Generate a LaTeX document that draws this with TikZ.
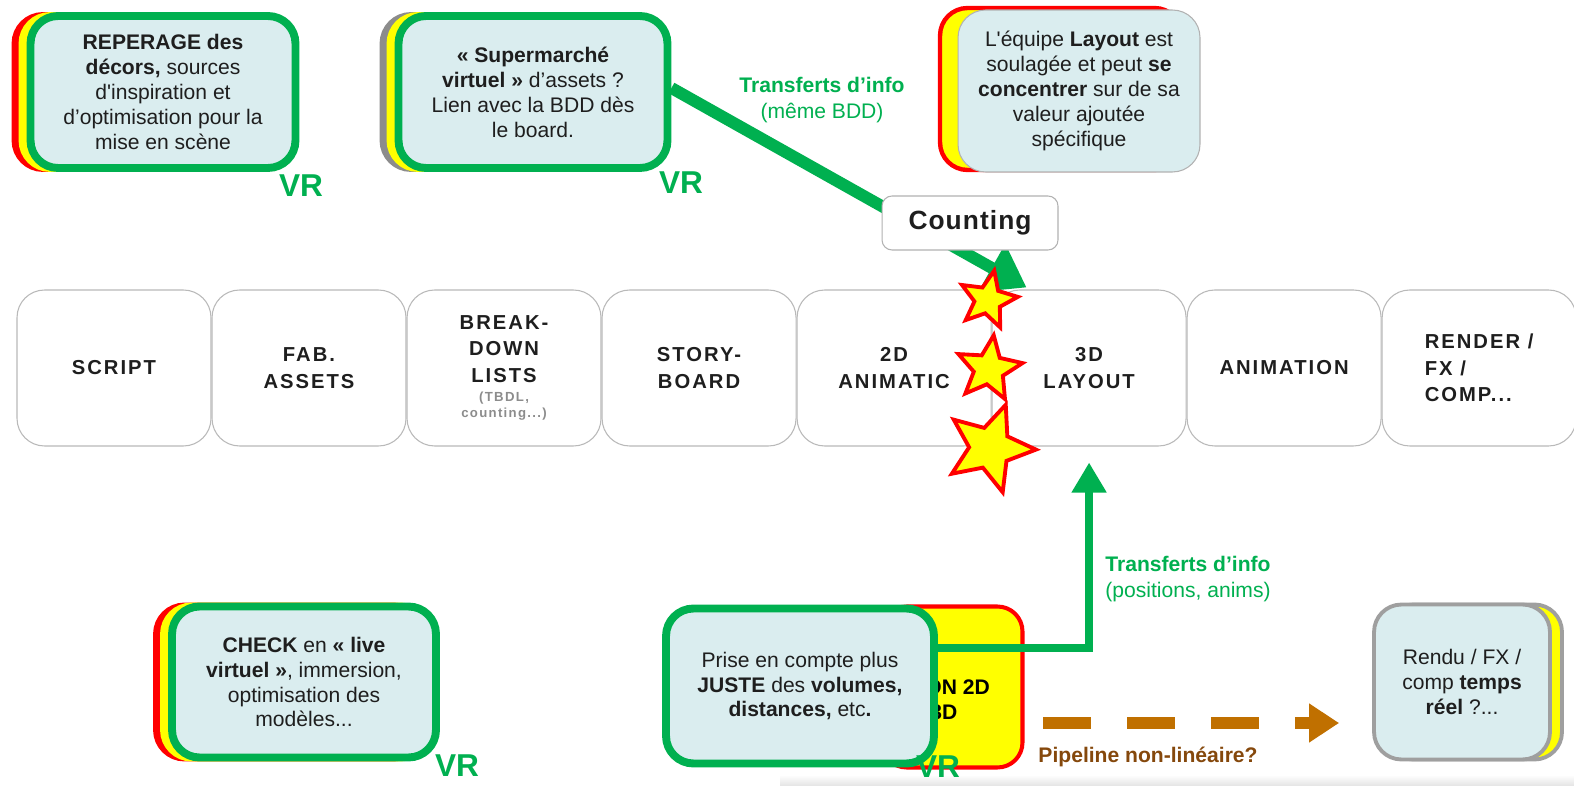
\documentclass[tikz,border=0pt]{standalone}
\usepackage{fontspec}
\setmainfont{Liberation Sans}
\newfontfamily\stagefont{Liberation Sans}[LetterSpace=10]
\newfontfamily\countfont{Liberation Sans}[LetterSpace=4]
\usepackage{tikz}
\usetikzlibrary{arrows.meta}
\usetikzlibrary{calc}
\usetikzlibrary{positioning}
\usetikzlibrary{shapes.geometric}
\usetikzlibrary{shadows}
\usetikzlibrary{backgrounds}

\definecolor{vrgreen}{HTML}{00B050}
\definecolor{linkgreen}{HTML}{92D050}
\definecolor{calloutblue}{HTML}{DAEDEF}
\definecolor{vrred}{HTML}{FF0000}
\definecolor{vryellow}{HTML}{FFFF00}
\definecolor{pipebrown}{HTML}{C07000}
\definecolor{pipetext}{HTML}{85480C}
\definecolor{stagetext}{HTML}{1E1E1E}

\newcommand{\tinygray}[1]{{\color{gray!90}\fontsize{7.5}{9}\selectfont #1}}

\begin{document}
\begin{tikzpicture}[x=0.02cm,y=-0.02cm,
    stage/.style={draw=gray!55,line width=0.6pt,fill=white,rounded corners=0.55cm,minimum width=3.88cm,minimum height=3.12cm,align=center,text=stagetext,font=\stagefont\bfseries\fontsize{11.5}{15}\selectfont},
    callout/.style={draw=vrgreen,line width=4.5pt,fill=calloutblue,rounded corners=0.55cm,align=center,text=stagetext,font=\fontsize{12}{14.2}\selectfont},
    redstack/.style={copy shadow={shadow xshift=-0.3cm,shadow yshift=0cm,opacity=1,fill=vrred,draw=vrred},copy shadow={shadow xshift=-0.16cm,shadow yshift=0cm,opacity=1,fill=vryellow,draw=vryellow}},
    graystack/.style={copy shadow={shadow xshift=-0.3cm,shadow yshift=0cm,opacity=1,fill=gray!90,draw=gray!90},copy shadow={shadow xshift=-0.16cm,shadow yshift=0cm,opacity=1,fill=vryellow,draw=vryellow}},
    link/.style={linkgreen,line width=4.5pt},
    redwire/.style={vrred,line width=1pt},
    graywire/.style={gray!80,line width=1pt},
    vrlabel/.style={text=vrgreen,font=\bfseries\fontsize{18}{18}\selectfont,inner sep=0pt},
    infolabel/.style={text=vrgreen,align=center,font=\fontsize{12}{14.5}\selectfont},
    burst/.style={star,star points=5,star point ratio=2.2,fill=vryellow,draw=vrred,line width=2.2pt,inner sep=0pt},
    bigarrow/.style={vrgreen,line width=6.8pt,-{Triangle[length=0.8cm,width=1.05cm]}}
  ]
      \useasboundingbox[fill=white] (0,0) rectangle (1574,786);
      \shade[top color=white,bottom color=gray!22] (780,775) rectangle (1574,786);

      \node[stage] (script) at (114,368) {SCRIPT};
      \node[stage,right=0pt of script] (fab) {FAB.\\ASSETS};
      \node[stage,right=0pt of fab] (breakdown) {BREAK-\\DOWN\\LISTS\\[-4pt]\tinygray{(TBDL,}\\[-6pt]\tinygray{counting...)}};
      \node[stage,right=0pt of breakdown] (storyboard) {STORY-\\BOARD};
      \node[stage,right=0pt of storyboard] (animatic) {2D\\ANIMATIC};
      \node[stage,right=0pt of animatic] (layout) {3D\\LAYOUT};
      \node[stage,right=0pt of layout] (animation) {ANIMATION};
      \node[stage,right=0pt of animation,align=left] (render) {RENDER /\\FX /\\COMP...};

      \node[callout,redstack,minimum width=5.3cm,minimum height=3.04cm] (spotting) at (163,92) {\textbf{REPERAGE des}\\\textbf{décors,} sources\\d\textquotesingle inspiration et\\d’optimisation pour la\\mise en scène};
      \node[callout,graystack,minimum width=5.38cm,minimum height=3.04cm] (market) at (533,92) {\textbf{« Supermarché}\\\textbf{virtuel »} d’assets ?\\Lien avec la BDD dès\\le board.};
      \node[callout,draw=gray!60,line width=0.6pt,minimum width=4.84cm,minimum height=3.24cm,copy shadow={shadow xshift=-0.36cm,shadow yshift=0.04cm,opacity=1,fill=vryellow,draw=vrred,line width=2.5pt}] (teamnote) at (1079,91) {L\textquotesingle équipe \textbf{Layout} est\\soulagée et peut \textbf{se}\\\textbf{concentrer} sur de sa\\valeur ajoutée\\spécifique};
      \node[callout,redstack,minimum width=5.28cm,minimum height=3.02cm] (check) at (304,682) {\textbf{CHECK} en \textbf{« live}\\\textbf{virtuel »}, immersion,\\optimisation des\\modèles...};
      \node[fill=vryellow,draw=vrred,line width=2.3pt,rounded corners=0.5cm,minimum width=2.82cm,minimum height=3.22cm] (transbox) at (952,687) {};
      \node[anchor=west,align=left,inner sep=0pt,font=\bfseries\fontsize{12}{14.2}\selectfont] (transtext) at (925,700) {ON 2D\\\hspace{2.8pt}3D};
      \node[callout,minimum width=5.36cm,minimum height=3.1cm] (exact) at (800,686) {Prise en compte plus\\\textbf{JUSTE} des \textbf{volumes,}\\\textbf{distances,} etc\textbf{.}};
      \node[callout,draw=gray!75,line width=2.2pt,minimum width=3.52cm,minimum height=3.1cm,copy shadow={shadow xshift=0.24cm,shadow yshift=0cm,opacity=1,fill=vryellow,draw=gray!75}] (realtime) at (1462,682) {Rendu / FX /\\comp \textbf{temps}\\\textbf{réel} ?...};

      \begin{scope}[on background layer]
        \draw[redwire] ([xshift=0.14cm]script.north) -- ([xshift=0.14cm]script.north |- spotting.south);
        \draw[link] ([xshift=0.32cm]script.north) -- ([xshift=0.32cm]script.north |- spotting.south);
        \draw[graywire] ([xshift=-0.1cm]breakdown.north) -- ([xshift=-0.1cm]breakdown.north |- market.south);
        \draw[link] ([xshift=0.2cm]breakdown.north) -- ([xshift=0.2cm]breakdown.north |- market.south);
        \draw[redwire] ([xshift=-0.12cm]layout.north) -- ([xshift=-0.12cm]layout.north |- teamnote.south);
        \draw[link] ([xshift=0.12cm]layout.north) -- ([xshift=0.12cm]layout.north |- teamnote.south);
        \draw[link] ([xshift=-0.26cm]fab.south) -- ([xshift=-0.26cm]fab.south |- check.north);
        \draw[redwire] ([xshift=-0.12cm]fab.south) -- ([xshift=-0.12cm]fab.south |- check.north);
        \draw[link] ([xshift=-1.98cm]animatic.south) -- ([xshift=-1.98cm]animatic.south |- exact.north);
        \draw[redwire] (animatic.south) -- (animatic.south |- transbox.north);
        \draw[link] ([xshift=-0.18cm]render.south) -- ([xshift=-0.18cm]render.south |- realtime.north);
        \draw[graywire] ([xshift=-0.06cm]render.south) -- ([xshift=-0.06cm]render.south |- realtime.north);
        \draw[linkgreen,line width=4.5pt,dash pattern=on 0.6cm off 0.4cm] ([yshift=-0.14cm]market.east) -- (animatic.north west);
      \end{scope}

      \draw[bigarrow] ([yshift=0.08cm]market.east) -- ([xshift=0.7cm,yshift=0.04cm]layout.north west);
      \node[draw=gray!60,line width=0.6pt,fill=white,rounded corners=0.2cm,minimum width=3.52cm,minimum height=1.08cm,text=stagetext,font=\countfont\bfseries\fontsize{15}{15}\selectfont] (counting) at (970,223) {Counting};
      \draw[vrgreen,line width=5pt,-{Triangle[length=0.6cm,width=0.66cm]}] ([yshift=0.76cm]exact.east) -| ([yshift=-0.32cm]layout.south);

      \node[burst,minimum size=1.2cm,rotate=-12] (star1) at (988,300) {};
      \node[burst,minimum size=1.36cm,rotate=-8] (star2) at (989,369) {};
      \node[burst,minimum size=1.84cm,rotate=-20] (star3) at (990,448) {};

      \node[vrlabel] (vr1) at (301,186) {VR};
      \node[vrlabel] (vr2) at (681,183) {VR};
      \node[vrlabel] (vr3) at (457,766) {VR};
      \node[vrlabel] (vr4) at (938,767) {VR};

      \node[infolabel] (info1) at (822,100) {\textbf{Transferts d’info}\\(même BDD)};
      \node[infolabel] (info2) at (1188,579) {\textbf{Transferts d’info}\\(positions, anims)};

      \coordinate (pipestart) at (1043,723);
      \coordinate (pipeend) at ([xshift=-0.66cm]realtime.west |- pipestart);
      \draw[pipebrown,line width=6.8pt,dash pattern=on 0.96cm off 0.72cm,-{Triangle[length=0.6cm,width=0.74cm]}] (pipestart) -- (pipeend);
      \node[text=pipetext,font=\bfseries\fontsize{12}{14}\selectfont] (pipelabel) at (1148,757) {Pipeline non-linéaire?};
\end{tikzpicture}
\end{document}
